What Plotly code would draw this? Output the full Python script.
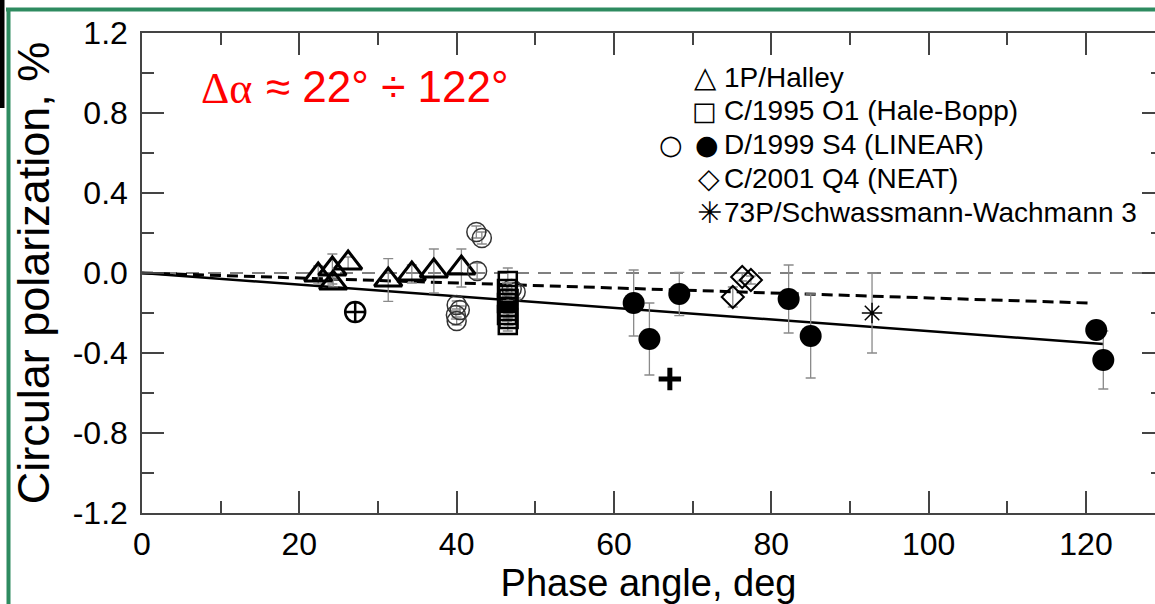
import plotly.graph_objects as go

# ---------------- data ----------------
halley_x = [22.4, 24.2, 24.3, 26.2, 31.3, 34.3, 37.1, 40.6]
halley_y = [-0.01, 0.02, -0.05, 0.05, -0.035, -0.005, 0.01, 0.025]
halley_err = [0.045, 0.075, 0.02, 0.03, 0.107, 0.045, 0.11, 0.095]

hb_x = [46.5, 46.4, 46.5, 46.6, 46.4, 46.5, 46.5, 46.4, 46.6, 46.5]
hb_y = [-0.04, -0.08, -0.11, -0.13, -0.15, -0.17, -0.19, -0.21, -0.23, -0.26]
hb_err = [0.065, 0.03, 0.03, 0.03, 0.03, 0.03, 0.03, 0.03, 0.03, 0.03]

lin_open_x = [42.5, 43.2, 42.6, 40.0, 40.4, 39.9, 40.0, 47.0, 47.5]
lin_open_y = [0.205, 0.175, 0.01, -0.16, -0.185, -0.21, -0.24, -0.08, -0.095]
lin_open_err = [0.03, 0.03, 0.04, 0.02, 0.02, 0.02, 0.02, 0.03, 0.03]

lin_fill_x = [62.5, 64.5, 68.3, 82.2, 85.0, 121.3, 122.2]
lin_fill_y = [-0.15, -0.33, -0.105, -0.13, -0.315, -0.285, -0.435]
lin_fill_err = [0.165, 0.18, 0.108, 0.17, 0.21, 0.03, 0.145]

neat_x = [75.1, 76.3, 77.4]
neat_y = [-0.12, -0.02, -0.035]
neat_err = [0.05, 0.02, 0.02]

sw3_x = [92.8]
sw3_y = [-0.2]
sw3_err = [0.2]

crosscircle_x = [27.1]
crosscircle_y = [-0.195]
plus_x = [67.1]
plus_y = [-0.53]

zero_x = [0, 130]
zero_y = [0, 0]
fit_all_x = [0, 122.2]
fit_all_y = [0, -0.355]
fit_dash_x = [0, 120.3]
fit_dash_y = [0, -0.15]

x_ticks = [0, 20, 40, 60, 80, 100, 120]
y_ticks = [1.2, 0.8, 0.4, 0.0, -0.4, -0.8, -1.2]
y_ticktext = ["1.2", "0.8", "0.4", "0.0", "-0.4", "-0.8", "-1.2"]

legend_rows = [
    ("\u25B3", "1P/Halley"),
    ("\u25A1", "C/1995 O1 (Hale-Bopp)"),
    ("\u25CF", "D/1999 S4 (LINEAR)"),
    ("\u25C7", "C/2001 Q4 (NEAT)"),
    ("\u2733", "73P/Schwassmann-Wachmann 3"),
]

# ---------------- figure ----------------
W, H = 1155, 604
L, R, T, B = 142, 0, 33, 91
pw, ph = W - L - R, H - T - B


def px(p):
    return (p - L) / pw


def py(p):
    return (H - B - p) / ph


ERR = dict(type="data", visible=True, color="#8a8a8a", thickness=1.3, width=5)

fig = go.Figure()

fig.add_trace(go.Scatter(x=zero_x, y=zero_y, mode="lines",
                         line=dict(color="#808080", width=2, dash="13px,9px"),
                         showlegend=False, hoverinfo="skip"))
fig.add_trace(go.Scatter(x=fit_dash_x, y=fit_dash_y, mode="lines",
                         line=dict(color="black", width=3, dash="11px,6px"),
                         showlegend=False))
fig.add_trace(go.Scatter(x=fit_all_x, y=fit_all_y, mode="lines",
                         line=dict(color="black", width=2.5),
                         showlegend=False))

fig.add_trace(go.Scatter(
    x=halley_x, y=halley_y, mode="markers", name="1P/Halley",
    error_y=dict(array=halley_err, **ERR),
    marker=dict(symbol="triangle-up-open", size=24, color="black",
                line=dict(width=3, color="black"))))

fig.add_trace(go.Scatter(
    x=lin_open_x, y=lin_open_y, mode="markers", name="D/1999 S4 (LINEAR) open",
    error_y=dict(array=lin_open_err, **ERR),
    marker=dict(symbol="circle-open", size=19, color="#333333",
                line=dict(width=1.5, color="#333333"))))

fig.add_trace(go.Scatter(
    x=hb_x, y=hb_y, mode="markers", name="C/1995 O1 (Hale-Bopp)",
    error_y=dict(array=hb_err, **ERR),
    marker=dict(symbol="square-open", size=18, color="black",
                line=dict(width=2.5, color="black"))))

fig.add_trace(go.Scatter(
    x=lin_fill_x, y=lin_fill_y, mode="markers", name="D/1999 S4 (LINEAR)",
    error_y=dict(array=lin_fill_err, **ERR),
    marker=dict(symbol="circle", size=22, color="black")))

fig.add_trace(go.Scatter(
    x=neat_x, y=neat_y, mode="markers", name="C/2001 Q4 (NEAT)",
    error_y=dict(array=neat_err, **ERR),
    marker=dict(symbol="diamond-open", size=17, color="black",
                line=dict(width=2, color="black"))))

fig.add_trace(go.Scatter(
    x=sw3_x, y=sw3_y, mode="markers", name="73P/Schwassmann-Wachmann 3",
    error_y=dict(array=sw3_err, **ERR),
    marker=dict(symbol="asterisk-open", size=17, color="black",
                line=dict(width=1.5, color="black"))))

fig.add_trace(go.Scatter(
    x=crosscircle_x, y=crosscircle_y, mode="markers", name="other",
    marker=dict(symbol="circle-cross-open", size=20, color="black",
                line=dict(width=2.5, color="black"))))

fig.add_trace(go.Scatter(
    x=plus_x, y=plus_y, mode="markers", name="other2",
    marker=dict(symbol="cross-thin-open", size=16, color="black",
                line=dict(width=5, color="black"))))

# right-side ticks (axis line itself lies outside the cropped image)
fig.add_trace(go.Scatter(x=[None], y=[None], yaxis="y2", showlegend=False))

FONT = "Liberation Sans, Arial, sans-serif"
SERIF = "Liberation Serif, Times New Roman, serif"

annotations = []
annotations.append(dict(
    x=px(199), y=py(88), xref="paper", yref="paper", xanchor="left", yanchor="middle",
    showarrow=False, text="\u0394\u03b1",
    font=dict(family=SERIF, size=44, color="red")))
annotations.append(dict(
    x=px(264), y=py(86), xref="paper", yref="paper", xanchor="left", yanchor="middle",
    showarrow=False, text="\u2248 22\u00b0 \u00f7 122\u00b0",
    font=dict(family=FONT, size=44, color="red")))

row_y = [77, 111, 145, 178, 212]
sym_x = [705, 704, 707, 709, 709]
sym_size = [29, 26, 27, 28, 30]
for (sym, label), ry, sx, ss in zip(legend_rows, row_y, sym_x, sym_size):
    annotations.append(dict(x=px(sx), y=py(ry), xref="paper", yref="paper",
                            xanchor="center", yanchor="middle", showarrow=False,
                            text=sym, font=dict(family="DejaVu Sans", size=ss, color="black")))
    annotations.append(dict(x=px(722), y=py(ry), xref="paper", yref="paper",
                            xanchor="left", yanchor="middle", showarrow=False,
                            text=label, font=dict(family=FONT, size=28, color="black")))
annotations.append(dict(x=px(671), y=py(145), xref="paper", yref="paper",
                        xanchor="center", yanchor="middle", showarrow=False,
                        text="\u25CB", font=dict(family="DejaVu Sans", size=27, color="black")))

shapes = [
    dict(type="line", xref="paper", yref="paper", x0=px(6), x1=px(1160), y0=py(9.5), y1=py(9.5),
         line=dict(color="#2E8B60", width=4)),
    dict(type="line", xref="paper", yref="paper", x0=px(8.5), x1=px(8.5), y0=py(9.5), y1=py(610),
         line=dict(color="#2E8B60", width=4)),
    dict(type="rect", xref="paper", yref="paper", x0=px(0), x1=px(4.5), y0=py(0), y1=py(108),
         fillcolor="black", line=dict(width=0)),
]

AX = "#444444"
fig.update_layout(
    width=W, height=H,
    margin=dict(l=L, r=R, t=T, b=B, pad=0, autoexpand=False),
    paper_bgcolor="white", plot_bgcolor="white",
    showlegend=False,
    font=dict(family=FONT, color="black"),
    xaxis=dict(
        range=[0, pw / (944 / 120)], tickvals=x_ticks, ticks="inside", ticklen=22,
        tickwidth=1.5, tickcolor=AX, showline=True, linecolor=AX, linewidth=1.5,
        mirror="ticks", showgrid=False, zeroline=False, automargin=False,
        tickfont=dict(size=32, family=FONT, color="black"),
        minor=dict(dtick=10, ticks="inside", ticklen=12, tickwidth=1.5, tickcolor=AX, showgrid=False),
        title=dict(text="Phase angle, deg", font=dict(size=38, family=FONT), standoff=6),
        ticklabelstandoff=2,
    ),
    yaxis=dict(
        range=[-1.2, 1.2], tickvals=y_ticks, ticktext=y_ticktext, ticks="inside", ticklen=22,
        tickwidth=1.5, tickcolor=AX, showline=True, linecolor=AX, linewidth=1.5,
        mirror=False, showgrid=False, zeroline=False, automargin=False,
        tickfont=dict(size=32, family=FONT, color="black"),
        minor=dict(dtick=0.2, ticks="inside", ticklen=12, tickwidth=1.5, tickcolor=AX, showgrid=False),
        title=dict(text="Circular polarization, %", font=dict(size=45, family=FONT), standoff=9),
        ticklabelstandoff=6,
    ),
    yaxis2=dict(
        overlaying="y", side="right", range=[-1.2, 1.2], tickvals=y_ticks,
        ticks="inside", ticklen=13, tickwidth=1.5, tickcolor=AX, showline=False,
        showticklabels=False, showgrid=False, zeroline=False, automargin=False,
        minor=dict(dtick=0.2, ticks="inside", ticklen=4, tickwidth=1.5, tickcolor=AX, showgrid=False),
    ),
    annotations=annotations,
    shapes=shapes,
)

fig.write_html(
    "out.html",
    config={"displayModeBar": False},
    post_script="document.body.style.margin='0px';document.body.style.overflow='hidden';",
)
